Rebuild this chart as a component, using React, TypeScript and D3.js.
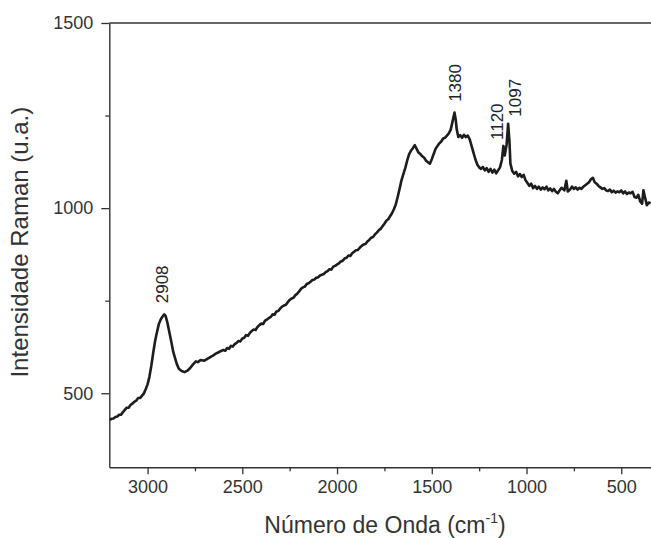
import { useEffect, useRef } from "react";
import * as d3 from "d3";

// Raman spectrum
const wavenumber = [
  3200, 3190, 3180, 3170, 3160, 3150, 3140, 3130, 3120, 3110, 3100, 3090, 3080, 3070, 3060, 3050, 3040, 3030, 3020, 3010,
  3000, 2990, 2980, 2970, 2960, 2950, 2940, 2930, 2920, 2912, 2905, 2895, 2885, 2875, 2865, 2855, 2845, 2835, 2820, 2805,
  2790, 2775, 2760, 2745, 2735, 2720, 2700, 2680, 2660, 2640, 2620,
  2600, 2590, 2580, 2570, 2560, 2550, 2540, 2530, 2520, 2510, 2500, 2490, 2480, 2470, 2460, 2450, 2440, 2430, 2420, 2410,
  2400, 2390, 2380, 2370, 2360, 2350, 2340, 2330, 2320, 2310, 2300, 2290, 2280, 2270, 2260, 2250, 2240, 2230, 2220, 2210,
  2200, 2190, 2180, 2170, 2160, 2150, 2140, 2130, 2120, 2110, 2100, 2090, 2080, 2070, 2060, 2050, 2040, 2030, 2020, 2010,
  2000, 1990, 1980, 1970, 1960, 1950, 1940, 1930, 1920, 1910, 1900, 1890, 1880, 1870, 1860, 1850, 1840, 1830, 1820, 1810,
  1800, 1790, 1780, 1770, 1760, 1750, 1740, 1730, 1720, 1710, 1700, 1690, 1680, 1670,
  1660, 1650, 1640, 1630, 1620, 1610, 1600, 1590, 1580, 1570, 1560, 1550, 1540, 1530, 1520, 1510, 1500, 1490, 1480, 1470,
  1460, 1450, 1440, 1430, 1420, 1410, 1400, 1390, 1380, 1374, 1368, 1360, 1350, 1340, 1330, 1320, 1310, 1300, 1290, 1280,
  1270, 1260, 1250, 1240, 1230, 1220, 1210, 1200, 1190, 1180, 1170, 1160, 1150, 1140, 1130, 1122, 1115, 1105, 1097, 1090,
  1085, 1075, 1065, 1055, 1045, 1035, 1025, 1015, 1005, 995, 985, 975, 965, 955, 945, 935, 925, 915, 905, 895,
  885, 875, 865, 855, 845, 835, 825, 815, 800, 790, 782, 770, 760, 750, 740, 730, 720, 710, 700, 690,
  680, 670, 660, 650, 640, 630, 620, 610, 600, 590, 580, 570, 560, 550, 540, 530, 520, 510, 500, 490,
  480, 470, 460, 450, 440, 430, 420, 410, 400, 390, 383, 375, 365, 355, 345,
];
const intensity = [
  428, 431, 432, 436, 437, 442, 442, 449, 455, 461, 461, 468, 472, 477, 480, 487, 487, 493, 499, 511,
  524, 545, 575, 610, 642, 666, 688, 700, 708, 713, 709, 690, 665, 640, 613, 595, 578, 566, 560, 557,
  561, 568, 578, 586, 584, 590, 588, 594, 600, 607, 612,
  617, 615, 622, 620, 628, 626, 633, 636, 641, 640, 648, 650, 657, 655, 663, 668, 672, 671, 679, 684,
  688, 687, 696, 699, 703, 706, 713, 712, 721, 722, 729, 734, 737, 739, 746, 752, 756, 758, 765, 769,
  775, 782, 786, 788, 795, 797, 801, 806, 807, 812, 813, 818, 820, 822, 827, 830, 835, 834, 842, 844,
  848, 851, 856, 858, 864, 866, 872, 871, 878, 882, 886, 887, 893, 898, 902, 903, 910, 914, 920, 922,
  929, 934, 940, 944, 951, 958, 966, 970, 978, 986, 997, 1010, 1030, 1052,
  1075, 1092, 1108, 1128, 1145, 1155, 1162, 1170, 1160, 1150, 1146, 1140, 1136, 1128, 1124, 1120, 1132, 1146, 1160, 1168,
  1175, 1180, 1188, 1190, 1196, 1202, 1212, 1235, 1258, 1240, 1212, 1192, 1197, 1190, 1198, 1192, 1196, 1186, 1168, 1150,
  1132, 1118, 1110, 1106, 1111, 1102, 1108, 1098, 1106, 1096, 1104, 1094, 1102, 1110, 1130, 1168, 1142, 1172, 1228, 1180,
  1120, 1100, 1093, 1098, 1086, 1092, 1084, 1090, 1075, 1068, 1060, 1066, 1054, 1060, 1052, 1058, 1050, 1056, 1051, 1058,
  1048, 1053, 1046, 1052, 1044, 1040, 1048, 1055, 1048, 1074, 1045, 1050, 1058, 1052, 1056, 1050, 1055, 1052, 1058, 1062,
  1066, 1070, 1078, 1082, 1070, 1066, 1060, 1056, 1052, 1054, 1048, 1046, 1050, 1043, 1047, 1042, 1045, 1043, 1048, 1040,
  1045, 1038, 1042, 1040, 1044, 1030, 1028, 1036, 1018, 1012, 1048, 1030, 1008, 1015, 1013,
];

const peakLabels = ["2908", "1380", "1120", "1097"];
const peakLabelWavenumber = [2923, 1375, 1155, 1059];
const peakLabelIntensity = [743, 1287, 1184, 1247];

const xMajorTicks = [3000, 2500, 2000, 1500, 1000, 500];
const xMinorTicks = [2750, 2250, 1750, 1250, 750];
const yMajorTicks = [500, 1000, 1500];
const yMinorTicks = [750, 1250];

const W = 651;
const H = 538;
const FONT = "'Liberation Sans', Arial, Helvetica, sans-serif";

const App = () => {
  const svgRef = useRef<SVGSVGElement | null>(null);

  useEffect(() => {
    if (!svgRef.current) return;
    const svg = d3.select(svgRef.current);
    svg.selectAll("*").remove();

    const left = 109.3, right = 651, top = 23, bottom = 467.3;

    const x = d3.scaleLinear().domain([3202, 343]).range([left, right]);
    const y = d3.scaleLinear().domain([300, 1500]).range([bottom, top]);

    const axisColor = "#333";

    // frame line on top
    svg.append("line")
      .attr("x1", left).attr("x2", right)
      .attr("y1", top).attr("y2", top)
      .attr("stroke", axisColor).attr("stroke-width", 1.4);

    // x axis
    const gx = svg.append("g").attr("transform", `translate(0,${bottom})`);
    gx.call(d3.axisBottom(x).tickValues(xMajorTicks).tickSize(7).tickSizeOuter(0).tickPadding(6).tickFormat(d3.format("d")));
    gx.append("g").call(d3.axisBottom(x).tickValues(xMinorTicks).tickSize(4).tickSizeOuter(0).tickFormat(() => ""))
      .select(".domain").remove();

    // y axis
    const gy = svg.append("g").attr("transform", `translate(${left},0)`);
    gy.call(d3.axisLeft(y).tickValues(yMajorTicks).tickSize(8).tickSizeOuter(0).tickPadding(8).tickFormat(d3.format("d")));
    gy.append("g").call(d3.axisLeft(y).tickValues(yMinorTicks).tickSize(4).tickSizeOuter(0).tickFormat(() => ""))
      .select(".domain").remove();

    svg.selectAll(".domain").attr("stroke", axisColor).attr("stroke-width", 1.4);
    svg.selectAll(".tick line").attr("stroke", axisColor).attr("stroke-width", 1.3);
    svg.selectAll(".tick text")
      .attr("fill", "#333")
      .style("font-family", FONT)
      .style("font-size", "18px");

    // spectrum
    const pts = wavenumber.map((w, i) => [w, intensity[i]] as [number, number]);
    const line = d3.line<[number, number]>()
      .x(d => x(d[0]))
      .y(d => y(d[1]));
    svg.append("path")
      .datum(pts)
      .attr("d", line)
      .attr("fill", "none")
      .attr("stroke", "#1e1c1d")
      .attr("stroke-width", 2.6)
      .attr("stroke-linejoin", "round");

    // peak labels
    peakLabels.forEach((t, i) => {
      svg.append("text")
        .attr("transform", `translate(${x(peakLabelWavenumber[i])},${y(peakLabelIntensity[i])}) rotate(-90)`)
        .attr("dy", "0.35em")
        .attr("text-anchor", "start")
        .attr("fill", "#222")
        .style("font-family", FONT)
        .style("font-size", "17px")
        .text(t);
    });

    // axis titles
    const xt = svg.append("text")
      .attr("x", 385)
      .attr("y", 533)
      .attr("text-anchor", "middle")
      .attr("fill", "#333")
      .style("font-family", FONT)
      .style("font-size", "23px");
    xt.append("tspan").text("Número de Onda (cm");
    xt.append("tspan").attr("dy", -10).style("font-size", "14px").text("-1");
    xt.append("tspan").attr("dy", 10).text(")");

    svg.append("text")
      .attr("transform", `translate(28,${(top + bottom) / 2 - 3}) rotate(-90)`)
      .attr("text-anchor", "middle")
      .attr("fill", "#333")
      .style("font-family", FONT)
      .style("font-size", "24px")
      .text("Intensidade Raman (u.a.)");
  }, []);

  return (
    <svg
      ref={svgRef}
      width={W}
      height={H}
      style={{ position: "absolute", left: 0, top: 0, background: "#fff" }}
    />
  );
};

export default App;
